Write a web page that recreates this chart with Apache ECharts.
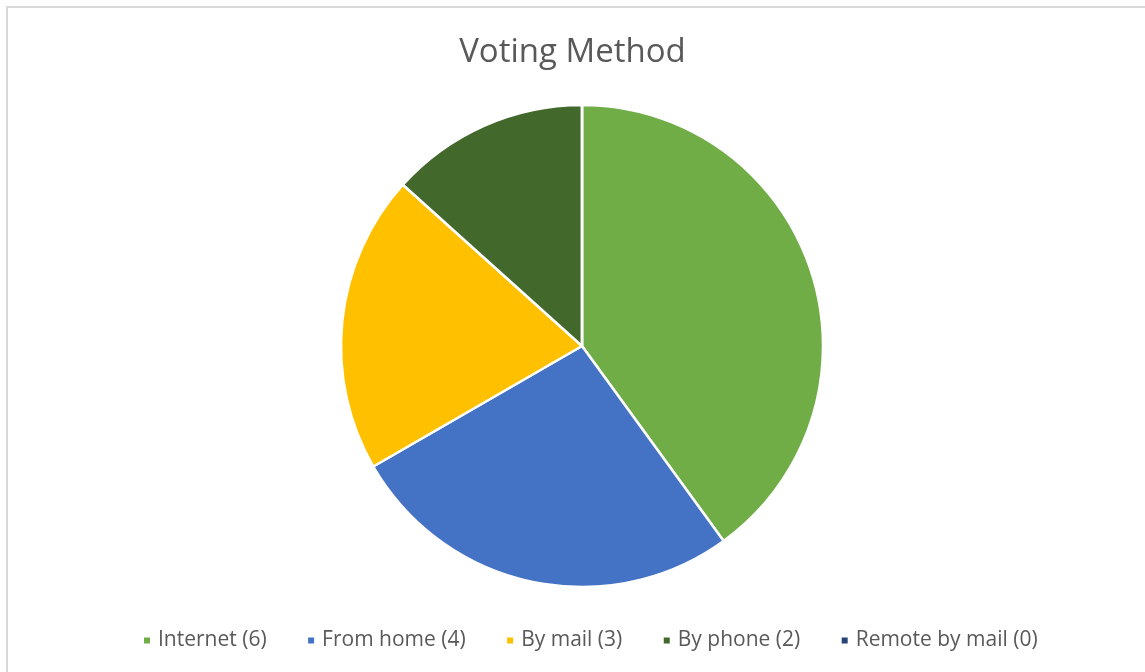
<!DOCTYPE html>
<html><head><meta charset="utf-8">
<script src="https://cdn.jsdelivr.net/npm/echarts@6/dist/echarts.min.js"></script>
<style>
html,body{margin:0;padding:0;background:#fff;overflow:hidden;}
#frame{position:absolute;left:6px;top:6px;width:1160px;height:700px;border:2px solid #D9D9D9;box-sizing:border-box;}
#chart{position:absolute;left:0;top:0;width:1145px;height:672px;}
</style></head>
<body>
<div id="frame"></div>
<div id="chart"></div>
<script>
const categories = ["Internet (6)", "From home (4)", "By mail (3)", "By phone (2)", "Remote by mail (0)"];
const values = [6, 4, 3, 2, 0];
const colors = ["#70AD47", "#4472C4", "#FFC000", "#43682B", "#264478"];
const titleText = "Voting Method";

const chart = echarts.init(document.getElementById('chart'));
chart.setOption({
  animation: false,
  backgroundColor: 'transparent',
  title: {
    text: titleText, left: 'center', top: 31,
    textStyle: {fontFamily: 'Open Sans', fontSize: 33, fontWeight: 'normal', color: '#595959'}
  },
  legend: {
    top: 625, left: 137,
    icon: 'rect', itemWidth: 8, itemHeight: 8, itemGap: 39.5,
    textStyle: {fontFamily: 'Open Sans', fontSize: 21, color: '#595959', padding: [0, 0, 0, 2]},
    data: categories
  },
  series: [{
    type: 'pie',
    center: [582, 346],
    radius: 241,
    startAngle: 90,
    clockwise: true,
    label: {show: false},
    labelLine: {show: false},
    itemStyle: {borderColor: '#fff', borderWidth: 2.5},
    data: categories.map((c, i) => ({name: c, value: values[i], itemStyle: {color: colors[i]}}))
  }]
});
</script>
</body></html>
